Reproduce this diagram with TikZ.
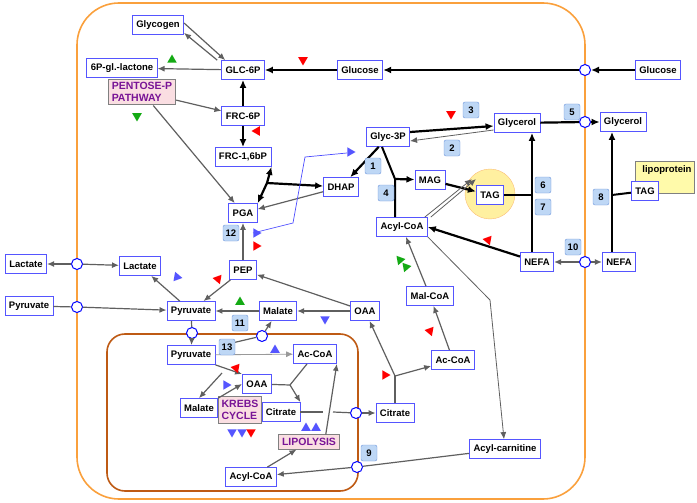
\documentclass[tikz,border=0pt]{standalone}
\usepackage{fontspec}
\setmainfont{Liberation Sans}
\usetikzlibrary{shapes.geometric,arrows.meta,calc}
\definecolor{metblue}{RGB}{85,85,255}
\definecolor{numfill}{RGB}{190,215,245}
\definecolor{numline}{RGB}{110,150,220}
\definecolor{pinkbox}{RGB}{250,222,226}
\definecolor{pathtext}{RGB}{120,20,150}
\definecolor{outline}{RGB}{250,160,60}
\definecolor{mito}{RGB}{190,90,20}
\definecolor{agray}{RGB}{95,95,95}
\definecolor{lipo}{RGB}{255,250,170}
\definecolor{blob}{RGB}{255,240,160}
\definecolor{tgreen}{RGB}{20,170,20}
\definecolor{tblue}{RGB}{85,85,255}
\begin{document}
\begin{tikzpicture}
    [x=1pt,y=-1pt,
    font=\fontsize{9.5}{11}\selectfont\bfseries,
    met/.style={draw=metblue, line width=0.8pt, fill=white, inner xsep=4pt, inner ysep=2.5pt, minimum height=19pt},
    num/.style={draw=numline, fill=numfill, rounded corners=2pt, minimum size=16pt, inner sep=1pt},
    pbox/.style={draw=gray, line width=1pt, fill=pinkbox, text=pathtext, align=left,
        font=\fontsize{10.5}{12}\selectfont\bfseries},
    port/.style={circle, draw=blue, line width=1pt, fill=white, minimum size=11pt, inner sep=0pt},
    thk/.style={line width=2.2pt, -{Latex[length=8pt,width=7pt]}},
    gra/.style={draw=agray, line width=1.2pt, -{Latex[length=7pt,width=6pt]}},
    tri/.style={regular polygon, regular polygon sides=3, fill=#1, inner sep=0pt, minimum size=12pt}
    ]
    \useasboundingbox (0,0) rectangle (697,503);
    % compartments
    \draw[outline, line width=1.6pt, rounded corners=42pt] (77,3) rectangle (585,499);
    \draw[mito, line width=1.6pt, rounded corners=18pt] (107,334) rectangle (358,491);
    \node (blob) [circle, draw=outline!70, fill=blob, minimum size=50pt] at (490,194) {};
    \node (lipo) [draw=gray, fill=lipo, minimum width=59pt, minimum height=32pt,
        anchor=north west, inner sep=0pt] at (635,161) {};
    \node at (667,170) {lipoprotein};

    % metabolites
    \node (glycogen) [met] at (158,25) {Glycogen};
    \node (lactone) [met] at (122,68) {6P-gl.-lactone};
    \node (glc) [met] at (243,70) {GLC-6P};
    \node (gluc) [met] at (360,70) {Glucose};
    \node (glucout) [met] at (658,70) {Glucose};
    \node (ppp) [pbox] at (142,92) {PENTOSE-P\\PATHWAY};
    \node (frc) [met] at (243,116) {FRC-6P};
    \node (frcbp) [met] at (243,157) {FRC-1,6bP};
    \node (dhap) [met] at (341,187) {DHAP};
    \node (pga) [met] at (243,213) {PGA};
    \node (pep) [met] at (243,270) {PEP};
    \node (g3p) [met] at (388,137) {Glyc-3P};
    \node (glyc) [met] at (517,123) {Glycerol};
    \node (glycout) [met] at (623,122) {Glycerol};
    \node (mag) [met] at (430,180) {MAG};
    \node (tag) [met] at (490,195) {TAG};
    \node (tagout) [met] at (645,191) {TAG};
    \node (acyl) [met] at (402,227) {Acyl-CoA};
    \node (nefa) [met] at (537,262) {NEFA};
    \node (nefaout) [met] at (619,262) {NEFA};
    \node (lacout) [met] at (26,264) {Lactate};
    \node (lac) [met] at (140,266) {Lactate};
    \node (pyrout) [met] at (29,306) {Pyruvate};
    \node (pyr) [met] at (191,311) {Pyruvate};
    \node (mal) [met] at (278,311) {Malate};
    \node (oaa) [met] at (365,311) {OAA};
    \node (malcoa) [met] at (430,296) {Mal-CoA};
    \node (accoa) [met] at (453,360) {Ac-CoA};
    \node (cit) [met] at (395,413) {Citrate};
    \node (carn) [met] at (505,449) {Acyl-carnitine};
    % mitochondrion
    \node (mpyr) [met] at (191,355) {Pyruvate};
    \node (maccoa) [met] at (315,354) {Ac-CoA};
    \node (moaa) [met] at (257,384) {OAA};
    \node (mmal) [met] at (199,408) {Malate};
    \node (krebs) [pbox] at (240,410) {KREBS\\CYCLE};
    \node (mcit) [met] at (281,412) {Citrate};
    \node (lipol) [pbox] at (309,442) {LIPOLYSIS};
    \node (macyl) [met] at (251,477) {Acyl-CoA};

    % transporters
    \node (p1) [port] at (585,70) {};
    \node (p2) [port] at (585,122) {};
    \node (p3) [port] at (585,262) {};
    \node (p4) [port] at (77,264) {};
    \node (p5) [port] at (77,307) {};
    \node (p6) [port] at (192,333) {};
    \node (p7) [port] at (262,336) {};
    \node (p8) [port] at (356,413) {};
    \node (p9) [port] at (357,467) {};

    % branch points
    \coordinate (y1) at (267,183);
    \coordinate (y2) at (395,179);
    \coordinate (y3) at (532,195);
    \coordinate (y4) at (612,195);
    \coordinate (y5) at (395,376);
    \coordinate (y6) at (290,385);
    \coordinate (bend) at (490,300);

    % glycolysis
    \draw [gra] ([yshift=2pt]glycogen.east) -- ([xshift=4pt]glc.north west);
    \draw [gra] ([xshift=-4pt]glc.north west) -- ([yshift=2pt]glycogen.south east);
    \draw [gra] (glc) -- (lactone);
    \draw [thk] (glucout) -- (p1);
    \draw [thk] (p1) -- (gluc);
    \draw [thk] (gluc) -- (glc);
    \draw [thk, {Latex[length=8pt,width=7pt]}-] (glc) -- (frc);
    \draw [gra] (ppp) -- (frc);
    \draw [gra] (ppp) -- (pga);
    \draw [thk] (frc) -- (frcbp);
    \draw [thk] (y1) -- (frcbp.south east);
    \draw [thk] (y1) -- (dhap);
    \draw [thk] (y1) -- (pga.north east);
    \draw [gra, {Latex[length=7pt,width=6pt]}-] (pga) -- (dhap);
    \draw [gra, {Latex[length=7pt,width=6pt]}-] (pga) -- (pep);
    \draw [gra] (pep) -- (pyr);
    \draw [thk, {Latex[length=8pt,width=7pt]}-] (dhap) -- (g3p);
    \draw [blue!70, line width=0.7pt] (253,233) -- (293,223) -- (305,157) -- (347,153);

    % glycerol and lipids
    \draw [thk] ([yshift=5pt]g3p.east) -- ([yshift=-3pt]glyc.west);
    \draw [gra, line width=0.8pt] ([yshift=-7pt]glyc.west) -- ([yshift=-4pt]g3p.east);
    \draw [thk, -] (glyc) -- (p2);
    \draw [thk] (p2) -- (glycout);
    \draw [line width=2pt] ([xshift=-6pt]g3p.south) -- (y2) -- (y2 |- acyl.north);
    \draw [thk] (y2) -- (mag);
    \draw [thk] (mag) -- (tag);
    \draw [gra, line width=0.8pt] ([xshift=-3pt]acyl.north east) -- ([xshift=-4pt,yshift=6pt]tag.north west);
    \draw [gra, line width=0.8pt] ([xshift=3pt]acyl.north east) -- ([yshift=6pt]tag.north west);
    \draw [line width=2pt] (tag) -- (y3);
    \draw [thk, {Latex[length=8pt,width=7pt]}-] (glyc.south -| y3) -- (nefa.north -| y3);
    \draw [thk] (nefa) -- (acyl.east);
    \draw [gra] (p3) -- (nefa);
    \draw [gra] (p3) -- (nefaout);
    \draw [line width=2pt] (tagout) -- (y4);
    \draw [thk, {Latex[length=8pt,width=7pt]}-] (glycout.south -| y4) -- (nefaout.north -| y4);
    \draw [gra] (malcoa) -- (acyl);
    \draw [gra, line width=0.8pt] (acyl.south east) -- (bend) -- (carn);

    % pyruvate and TCA
    \draw [gra, {Latex[length=7pt,width=6pt]}-] (lacout) -- (p4);
    \draw [gra] (p4) -- (lac);
    \draw [gra, {Latex[length=7pt,width=6pt]}-] (lac) -- (pyr);
    \draw [gra, -] (pyrout) -- (p5);
    \draw [gra] (p5) -- (pyr);
    \draw [gra] (mal) -- (pyr);
    \draw [gra, {Latex[length=7pt,width=6pt]}-] (mal) -- (oaa);
    \draw [gra] (oaa) -- (pep);
    \draw [gra, -] (pyr) -- (p6);
    \draw [gra] (p6) -- (mpyr);
    \draw [gra, draw=gray!80, line width=0.8pt] (mpyr) -- (maccoa);
    \draw [gra] (mpyr.south east) -- (moaa.north west);
    \draw [gra] (222,373) -- (mmal.north);
    \draw [gra] (mmal.north east) -- (moaa.west);
    \draw [gra, -] (232,343) -- (p7);
    \draw [gra] (p7) -- (mal);
    \draw [gra, -] (moaa) -- (y6);
    \draw [gra, -] (maccoa) -- (y6);
    \draw [gra] (y6) -- (mcit.north east);
    \draw [gra] (lipol.north east) ++(-14,0) -- (maccoa.south east);
    \draw [gra] (macyl) -- (lipol);
    \draw [gra, -] (mcit) -- (323,412);
    \draw [gra, -] (333,412) -- (p8);
    \draw [gra] (p8) -- (cit);
    \draw [gra, -] (cit) -- (y5);
    \draw [gra] (y5) -- (oaa);
    \draw [gra] (y5) -- (accoa);
    \draw [gra] (accoa) -- (malcoa);
    \draw [gra, -] (carn) -- (p9);
    \draw [gra] (p9) -- (macyl);

    % step numbers
    \foreach \n/\x/\y in {1/373/166, 2/452/148, 3/471/110, 4/386/193, 5/572/112,
        6/543/185, 7/543/207, 8/601/197, 10/573/247, 12/231/233, 11/240/323,
        13/227/347, 9/369/453}
        \node (n\n) [num] at (\x,\y) {\n};

    % regulation markers
    \foreach \c/\r/\x/\y [count=\k] in {red/180/303/60, tgreen/0/172/60, tgreen/180/137/116,
        red/90/257/131, tblue/-90/350/152, red/180/451/114, tblue/-90/256/233,
        red/-90/256/246, red/200/218/279, tblue/20/177/277, tgreen/0/240/302,
        tblue/180/325/319, tgreen/160/400/260, tgreen/160/406/267, red/200/488/240,
        red/200/430/331, red/-90/385/375, tblue/0/275/350, red/200/236/368,
        tblue/-90/226/385, tblue/180/232/432, tblue/180/242/432, red/180/251/432,
        tblue/0/306/428, tblue/0/316/428}
        \node (t\k) [tri=\c, shape border rotate=\r, minimum size=11pt] at (\x,\y) {};
\end{tikzpicture}
\end{document}
